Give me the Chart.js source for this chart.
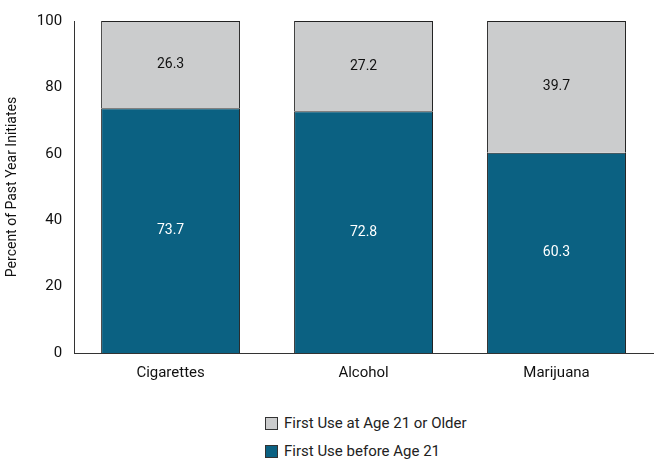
<!DOCTYPE html>
<html><head><meta charset="utf-8">
<script src="https://cdn.jsdelivr.net/npm/chart.js@4"></script>
<style>
body{margin:0;background:#fff;font-family:"Liberation Sans Narrow","Roboto",sans-serif;}
#wrap{width:655px;height:385px;position:relative;}
#leg{position:absolute;left:265px;top:409px;font-size:15px;color:#222;}
.it{display:flex;align-items:center;height:28px;}
.sw{width:11px;height:11px;border:1px solid #333;margin-right:6px;}
</style></head><body>
<div id="wrap"><canvas id="c" width="655" height="385"></canvas></div>
<div id="leg">
<div class="it"><span class="sw" style="background:#cbcccd"></span>First Use at Age 21 or Older</div>
<div class="it"><span class="sw" style="background:#0b6182"></span>First Use before Age 21</div>
</div>
<script>
const categories=["Cigarettes","Alcohol","Marijuana"];
const before21=[73.7,72.8,60.3];
const after21=[26.3,27.2,39.7];
const yTicks=[0,20,40,60,80,100];
const font={family:'"Liberation Sans Narrow","Roboto",sans-serif',size:15};
const labels={id:'lbl',afterDatasetsDraw(ch){const x=ch.ctx;x.save();x.font='14px '+font.family;x.textAlign='center';x.textBaseline='middle';
ch.data.datasets.forEach((d,i)=>{ch.getDatasetMeta(i).data.forEach((b,j)=>{x.fillStyle=i==0?'#fff':'#111';x.fillText(d.data[j].toFixed(1),b.x,(b.y+b.base)/2);});});x.restore();}};
new Chart(document.getElementById('c'),{type:'bar',
data:{labels:categories,datasets:[
{data:before21,backgroundColor:'#0b6182',borderColor:'#222',borderWidth:1},
{data:after21,backgroundColor:'#cbcccd',borderColor:'#222',borderWidth:1}]},
options:{responsive:false,animation:false,devicePixelRatio:1,
layout:{padding:{top:6,right:2}},
plugins:{legend:{display:false},tooltip:{enabled:false}},
scales:{x:{stacked:true,grid:{display:false},border:{color:'#333'},ticks:{color:'#111',font,maxRotation:0,autoSkip:false},categoryPercentage:1,barPercentage:0.62},
y:{stacked:true,min:0,max:100,grid:{display:false,drawTicks:false},border:{color:'#333'},
afterBuildTicks:a=>{a.ticks=yTicks.map(v=>({value:v}));},
ticks:{color:'#111',font,padding:12},
title:{display:true,text:'Percent of Past Year Initiates',color:'#111',font:{family:font.family,size:14}}}}},
plugins:[labels]});
</script></body></html>
